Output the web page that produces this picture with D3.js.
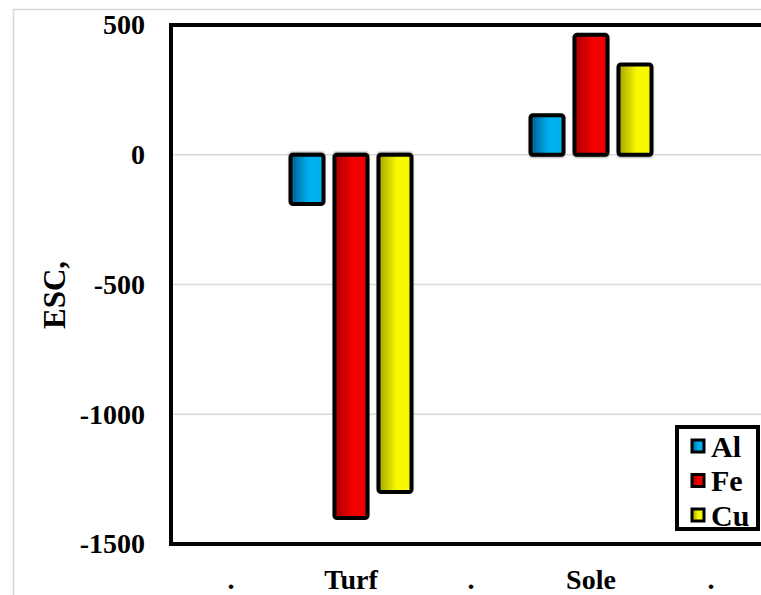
<!DOCTYPE html>
<html><head><meta charset="utf-8">
<script src="https://cdn.jsdelivr.net/npm/d3@7"></script>
<style>body{margin:0;background:#fff}svg{display:block}</style>
</head><body>
<script>
const categories = [".", "Turf", ".", "Sole", "."];
const seriesNames = ["Al", "Fe", "Cu"];
const alValues = [null, -190, null, 152, null];
const feValues = [null, -1400, null, 462, null];
const cuValues = [null, -1300, null, 348, null];
const yTicks = [500, 0, -500, -1000, -1500];
const gridTicks = [0, -500, -1000];
const yTitle = "ESC,";

const seriesColors = {
  Al: ["#005d8c", "#00b0f0"],
  Fe: ["#a80000", "#f20000"],
  Cu: ["#a3a300", "#f8f800"]
};
const seriesValues = {Al: alValues, Fe: feValues, Cu: cuValues};

const W = 761, H = 595;
const svg = d3.select("body").append("svg").attr("width", W).attr("height", H);
const defs = svg.append("defs");
seriesNames.forEach(s => {
  const g = defs.append("linearGradient").attr("id", "g" + s).attr("x1", "0").attr("x2", "1").attr("y1", "0").attr("y2", "0");
  g.append("stop").attr("offset", "0%").attr("stop-color", seriesColors[s][0]);
  g.append("stop").attr("offset", "55%").attr("stop-color", seriesColors[s][1]);
  g.append("stop").attr("offset", "100%").attr("stop-color", seriesColors[s][1]);
});
defs.append("filter").attr("id", "blur").append("feGaussianBlur").attr("stdDeviation", 0.8);

// outer chart border
svg.append("rect").attr("x", 13.5).attr("y", 9.5).attr("width", 900).attr("height", 700)
  .attr("fill", "none").attr("stroke", "#d9d9d9").attr("stroke-width", 1.5);

const pLeft = 171, pRight = 771, pTop = 25, pBottom = 544;
const x = d3.scaleBand().domain(d3.range(categories.length)).range([pLeft, pRight]).padding(0);
const xs = d3.scaleBand().domain(seriesNames).range([-66, 66]).paddingInner(0.25).paddingOuter(0.125);
const y = d3.scaleLinear().domain([-1500, 500]).range([pBottom, pTop]);

const font = "'Liberation Serif','Times New Roman',serif";

// gridlines
svg.append("g").selectAll("line").data(gridTicks).join("line")
  .attr("x1", pLeft).attr("x2", pRight + 20)
  .attr("y1", d => y(d)).attr("y2", d => y(d))
  .attr("stroke", "#d9d9d9").attr("stroke-width", 1.5);

// bars
const barData = [];
seriesNames.forEach(s => seriesValues[s].forEach((v, i) => { if (v != null) barData.push({s, i, v}); }));
const bars = svg.append("g");
bars.selectAll("rect.sh").data(barData).join("rect").attr("class", "sh")
  .attr("x", d => x(d.i) + x.bandwidth() / 2 + xs(d.s) - 1)
  .attr("width", xs.bandwidth() + 2)
  .attr("y", d => d.v < 0 ? y(0) - 2.5 : y(d.v))
  .attr("height", d => Math.abs(y(d.v) - y(0)) + 2.5)
  .attr("rx", 2).attr("fill", "#7a7a7a").attr("filter", "url(#blur)");
bars.selectAll("rect.bar").data(barData).join("rect").attr("class", "bar")
  .attr("x", d => x(d.i) + x.bandwidth() / 2 + xs(d.s))
  .attr("width", xs.bandwidth())
  .attr("y", d => Math.min(y(d.v), y(0)))
  .attr("height", d => Math.abs(y(d.v) - y(0)))
  .attr("rx", 2.5)
  .attr("fill", d => "url(#g" + d.s + ")")
  .attr("stroke", "#000").attr("stroke-width", 4);

// frame
svg.append("rect").attr("x", pLeft).attr("y", pTop).attr("width", 700).attr("height", pBottom - pTop)
  .attr("fill", "none").attr("stroke", "#000").attr("stroke-width", 4);

// y axis
const yAxis = svg.append("g").attr("transform", `translate(${pLeft},0)`)
  .call(d3.axisLeft(y).tickValues(yTicks).tickSize(0).tickPadding(26).tickFormat(d => String(d)));
yAxis.select(".domain").remove();
yAxis.selectAll("text").attr("font-family", font).attr("font-weight", "bold").attr("font-size", 28).attr("fill", "#000");

// x axis
const xAxis = svg.append("g").attr("transform", `translate(0,${pBottom})`)
  .call(d3.axisBottom(x).tickSize(0).tickFormat(i => categories[i]));
xAxis.select(".domain").remove();
xAxis.selectAll("text").attr("y", 45).attr("dy", 0)
  .attr("font-family", font).attr("font-weight", "bold").attr("font-size", 28).attr("fill", "#000");

// y title
svg.append("text").attr("transform", "translate(65,295) rotate(-90)")
  .attr("text-anchor", "middle").attr("font-family", font).attr("font-weight", "bold").attr("font-size", 31)
  .text(yTitle);

// legend
const lg = svg.append("g");
lg.append("rect").attr("x", 677).attr("y", 427).attr("width", 81).attr("height", 102)
  .attr("fill", "#fff").attr("stroke", "#000").attr("stroke-width", 4);
const ly = d3.scalePoint().domain(seriesNames).range([446, 515]);
lg.selectAll("rect.m").data(seriesNames).join("rect").attr("class", "m")
  .attr("x", 692).attr("y", d => ly(d) - 6).attr("width", 12).attr("height", 12)
  .attr("fill", d => "url(#g" + d + ")").attr("stroke", "#000").attr("stroke-width", 3);
lg.selectAll("text").data(seriesNames).join("text")
  .attr("x", 711).attr("y", d => ly(d)).attr("dy", "0.35em")
  .attr("font-family", font).attr("font-weight", "bold").attr("font-size", 30)
  .text(d => d);
</script>
</body></html>
